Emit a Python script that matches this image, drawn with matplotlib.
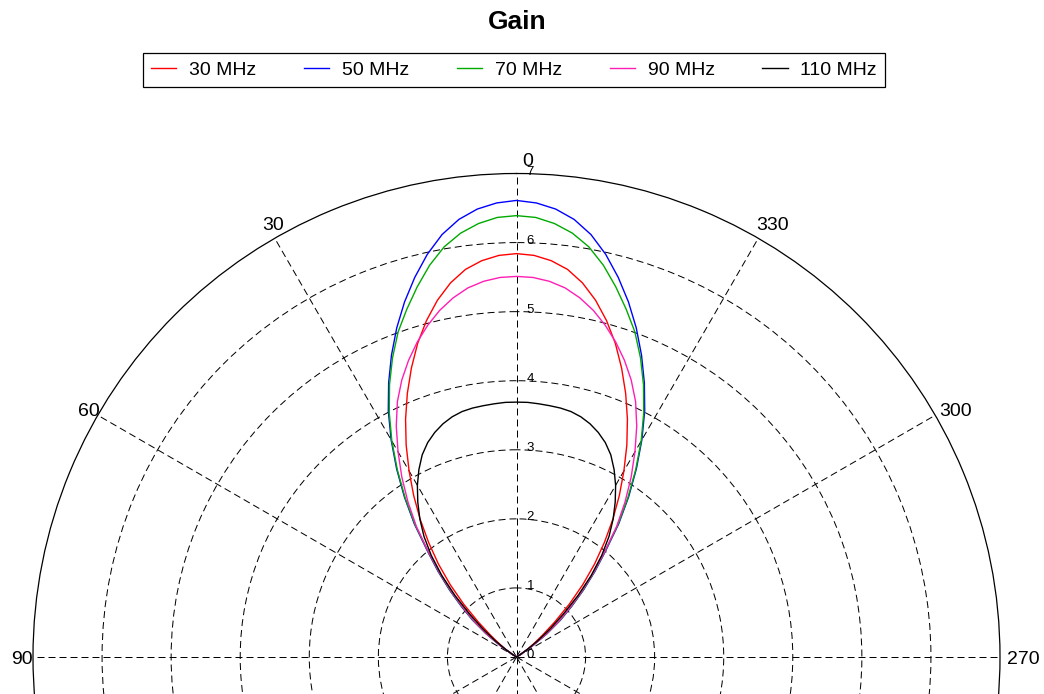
import numpy as np
import matplotlib
matplotlib.use("Agg")
import matplotlib.pyplot as plt

plt.rcParams["font.family"] = ["Liberation Sans", "DejaVu Sans"]

# Gain versus azimuth (one half of each symmetric lobe, degrees off boresight)
angle_deg = [0, 2.5, 5, 7.5, 10, 12.5, 15, 17.5, 20, 22.5, 25, 27.5, 30,
             32.5, 35, 37.5, 40, 42.5, 45, 47.5, 50, 52.5, 55, 57.5, 60]
gain_30mhz = [5.84, 5.82, 5.76, 5.66, 5.50, 5.29, 5.04, 4.76, 4.45, 4.13, 3.80, 3.46, 3.11,
              2.77, 2.43, 2.09, 1.76, 1.42, 1.08, 0.75, 0.49, 0.31, 0.17, 0.06, 0.0]
gain_50mhz = [6.61, 6.58, 6.51, 6.39, 6.21, 5.97, 5.69, 5.39, 5.07, 4.73, 4.38, 4.02, 3.63,
              3.23, 2.83, 2.43, 2.01, 1.68, 1.37, 1.08, 0.83, 0.56, 0.29, 0.08, 0.0]
gain_70mhz = [6.39, 6.37, 6.30, 6.19, 6.03, 5.81, 5.55, 5.28, 5.01, 4.69, 4.35, 3.99, 3.61,
              3.21, 2.81, 2.41, 1.99, 1.66, 1.35, 1.06, 0.81, 0.55, 0.28, 0.08, 0.0]
gain_90mhz = [5.51, 5.50, 5.46, 5.39, 5.28, 5.14, 4.97, 4.78, 4.57, 4.34, 4.08, 3.77, 3.43,
              3.09, 2.74, 2.38, 1.98, 1.64, 1.32, 1.03, 0.78, 0.53, 0.28, 0.08, 0.0]
gain_110mhz = [3.69, 3.69, 3.68, 3.67, 3.66, 3.64, 3.60, 3.54, 3.46, 3.36, 3.23, 3.06, 2.87,
               2.66, 2.44, 2.20, 1.92, 1.60, 1.26, 0.92, 0.64, 0.40, 0.20, 0.06, 0.0]

series_labels = ["30 MHz", "50 MHz", "70 MHz", "90 MHz", "110 MHz"]
series_values = [gain_30mhz, gain_50mhz, gain_70mhz, gain_90mhz, gain_110mhz]
series_colors = ["#ff0000", "#0000ff", "#00aa00", "#ff1eb4", "#000000"]

ring_values = [1, 2, 3, 4, 5, 6]
ring_labels = ["0", "1", "2", "3", "4", "5", "6", "7"]
spoke_angles = list(range(0, 360, 30))
angle_labels = [0, 30, 60, 90, 270, 300, 330]
r_max = 7

W, H, DPI = 1044, 694, 100
fig = plt.figure(figsize=(W / DPI, H / DPI), dpi=DPI)
fig.patch.set_facecolor("white")

# polar frame: centre near the bottom edge, lower half falls outside the figure
cx, cy, rad = 516.5, 657, 483.5
ax = fig.add_axes([(cx - rad) / W, (H - cy - rad) / H, 2 * rad / W, 2 * rad / H],
                  projection="polar")
ax.set_theta_zero_location("N")
ax.set_theta_direction(1)
ax.set_ylim(0, r_max)
ax.set_xticks(np.deg2rad(spoke_angles))
ax.set_yticks(ring_values)
ax.set_xticklabels([])
ax.set_yticklabels([])
ax.tick_params(length=0)
dash = (0, (7, 4))
ax.grid(True, color="black", linestyle=dash, linewidth=0.72)
ax.spines["polar"].set_linewidth(0.9)
ax.spines["polar"].set_color("black")

# mirror each half lobe to get the full pattern
half = np.array(angle_deg, dtype=float)
theta_full = np.deg2rad(np.concatenate([-half[::-1], half[1:]]))
handles = []
for lab, vals, col in zip(series_labels, series_values, series_colors):
    v = np.array(vals, dtype=float)
    r_full = np.concatenate([v[::-1], v[1:]])
    (ln,) = ax.plot(theta_full, r_full, color=col, linewidth=1.0, label=lab,
                    clip_on=False)
    handles.append(ln)

# radial scale labels along the boresight spoke
for i, txt in enumerate(ring_labels):
    ax.annotate(txt, xy=(0, i), xytext=(10, -1), textcoords="offset pixels",
                ha="left", va="baseline", fontsize=9.5, annotation_clip=False)

# azimuth labels around the outer circle
angle_label_style = {
    0: ((6, 8), "left", "baseline"),
    30: ((-2, 8), "center", "baseline"),
    60: ((2, -1), "right", "baseline"),
    90: ((0, 0), "right", "center_baseline"),
    270: ((7, 0), "left", "center_baseline"),
    300: ((4, -1), "left", "baseline"),
    330: ((-2, 8), "left", "baseline"),
}
for a in angle_labels:
    off, ha, va = angle_label_style[a]
    ax.annotate(str(a), xy=(np.deg2rad(a), r_max), xytext=off,
                textcoords="offset pixels", ha=ha, va=va, fontsize=14,
                annotation_clip=False)

fig.text(517 / W, 1 - 29 / H, "Gain", ha="center", va="baseline",
         fontsize=19, fontweight="bold")

leg = fig.legend(handles=handles, labels=series_labels, ncol=5, loc="center",
                 bbox_to_anchor=(514 / W, 1 - 70 / H), fontsize=14,
                 frameon=True, fancybox=False, framealpha=1, edgecolor="black",
                 handlelength=1.3, handletextpad=0.65, columnspacing=2.45,
                 borderpad=0.4, borderaxespad=0)
leg.get_frame().set_linewidth(0.9)

fig.savefig("out.png", dpi=DPI, facecolor="white")
